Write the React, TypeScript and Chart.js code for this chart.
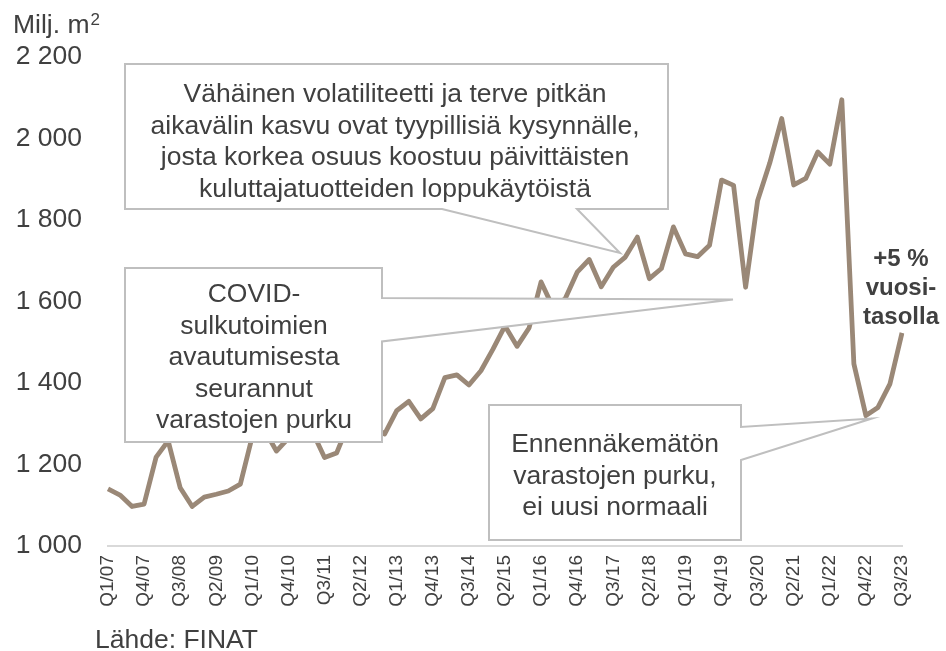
import React, { useEffect, useRef } from 'react';
import { Chart, registerables } from 'chart.js';

Chart.register(...registerables);

// ---- Data ----
const quarters = [
  'Q1/07', 'Q2/07', 'Q3/07', 'Q4/07',
  'Q1/08', 'Q2/08', 'Q3/08', 'Q4/08',
  'Q1/09', 'Q2/09', 'Q3/09', 'Q4/09',
  'Q1/10', 'Q2/10', 'Q3/10', 'Q4/10',
  'Q1/11', 'Q2/11', 'Q3/11', 'Q4/11',
  'Q1/12', 'Q2/12', 'Q3/12', 'Q4/12',
  'Q1/13', 'Q2/13', 'Q3/13', 'Q4/13',
  'Q1/14', 'Q2/14', 'Q3/14', 'Q4/14',
  'Q1/15', 'Q2/15', 'Q3/15', 'Q4/15',
  'Q1/16', 'Q2/16', 'Q3/16', 'Q4/16',
  'Q1/17', 'Q2/17', 'Q3/17', 'Q4/17',
  'Q1/18', 'Q2/18', 'Q3/18', 'Q4/18',
  'Q1/19', 'Q2/19', 'Q3/19', 'Q4/19',
  'Q1/20', 'Q2/20', 'Q3/20', 'Q4/20',
  'Q1/21', 'Q2/21', 'Q3/21', 'Q4/21',
  'Q1/22', 'Q2/22', 'Q3/22', 'Q4/22',
  'Q1/23', 'Q2/23', 'Q3/23',
];

const volume = [
  1140, 1125, 1097, 1103,
  1218, 1258, 1143, 1097,
  1120, 1127, 1135, 1152,
  1270, 1285, 1233, 1265,
  1300, 1280, 1217, 1228,
  1300, 1310, 1295, 1275,
  1332, 1355, 1312, 1337,
  1413, 1420, 1395, 1430,
  1483, 1540, 1490, 1535,
  1648, 1585, 1607, 1672,
  1703, 1636, 1684, 1709,
  1758, 1656, 1681, 1783,
  1717, 1710, 1738, 1898,
  1885, 1635, 1848, 1939,
  2049, 1886, 1902, 1967,
  1937, 2095, 1447, 1320,
  1340, 1398, 1523,
];

const yMin = 1000;
const yMax = 2200;
const yStep = 200;
const labelEvery = 3;

const unitText = 'Milj. m';
const unitSup = '2';
const sourceText = 'Lähde: FINAT';
const calloutTopLines = [
  'Vähäinen volatiliteetti ja terve pitkän',
  'aikavälin kasvu ovat tyypillisiä kysynnälle,',
  'josta korkea osuus koostuu päivittäisten',
  'kuluttajatuotteiden loppukäytöistä',
];
const calloutCovidLines = ['COVID-', 'sulkutoimien', 'avautumisesta', 'seurannut', 'varastojen purku'];
const calloutBottomLines = ['Ennennäkemätön', 'varastojen purku,', 'ei uusi normaali'];
const growthLines = ['+5 %', 'vuosi-', 'tasolla'];

// ---- Styles ----
const FONT = '"Liberation Sans", Arial, sans-serif';
const TEXT = '#404040';
const LINE = '#9a8877';
const BOX = '#bfbfbf';
const BODY_SIZE = 26.5;

const fmt = (v: number) => String(v).replace(/\B(?=(\d{3})+(?!\d))/g, ' ');

function callout(ctx: CanvasRenderingContext2D, pts: number[][], lines: string[], cx: number, base: number, lh: number) {
  ctx.save();
  ctx.beginPath();
  ctx.moveTo(pts[0][0], pts[0][1]);
  for (let i = 1; i < pts.length; i++) ctx.lineTo(pts[i][0], pts[i][1]);
  ctx.closePath();
  ctx.fillStyle = '#ffffff';
  ctx.fill();
  ctx.lineWidth = 2;
  ctx.strokeStyle = BOX;
  ctx.lineJoin = 'miter';
  ctx.stroke();
  ctx.fillStyle = TEXT;
  ctx.font = `${BODY_SIZE}px ${FONT}`;
  ctx.textAlign = 'center';
  ctx.textBaseline = 'alphabetic';
  lines.forEach((t, i) => ctx.fillText(t, cx, base + i * lh));
  ctx.restore();
}

const overlay = {
  id: 'overlay',
  afterDatasetsDraw(chart: any) {
    const ctx: CanvasRenderingContext2D = chart.ctx;
    callout(
      ctx,
      [[125, 64], [668, 64], [668, 209], [577, 209], [620, 253], [442, 209], [125, 209]],
      calloutTopLines, 395, 102, 31.7
    );
    callout(
      ctx,
      [[125, 268], [382, 268], [382, 298], [733, 299.5], [382, 341.5], [382, 442], [125, 442]],
      calloutCovidLines, 254, 302, 31.6
    );
    callout(
      ctx,
      [[489, 405], [741, 405], [741, 427], [872, 418.5], [741, 460], [741, 540], [489, 540]],
      calloutBottomLines, 615, 452, 31.6
    );

    ctx.save();
    ctx.fillStyle = TEXT;
    ctx.textAlign = 'center';
    ctx.textBaseline = 'alphabetic';
    ctx.font = `bold 24px ${FONT}`;
    growthLines.forEach((t, i) => ctx.fillText(t, 901, 266 + i * 29));

    ctx.textAlign = 'left';
    ctx.font = `${BODY_SIZE}px ${FONT}`;
    ctx.fillText(unitText, 13, 33);
    const w = ctx.measureText(unitText).width;
    ctx.font = `17px ${FONT}`;
    ctx.fillText(unitSup, 13 + w + 1, 25);
    ctx.font = `${BODY_SIZE}px ${FONT}`;
    ctx.fillText(sourceText, 95, 648);
    ctx.restore();
  },
};

export default function App() {
  const ref = useRef<HTMLCanvasElement>(null);
  useEffect(() => {
    document.body.style.margin = '0';
    const chart = new Chart(ref.current as HTMLCanvasElement, {
      type: 'line',
      data: {
        labels: quarters,
        datasets: [
          {
            data: volume,
            borderColor: LINE,
            backgroundColor: LINE,
            borderWidth: 4.8,
            pointRadius: 0,
            tension: 0,
            fill: false,
            borderJoinStyle: 'round',
          },
        ],
      },
      options: {
        responsive: false,
        animation: false,
        devicePixelRatio: 1,
        layout: { padding: { left: 0, right: 44, top: 57, bottom: 35 } },
        plugins: { legend: { display: false }, tooltip: { enabled: false } },
        scales: {
          x: {
            type: 'category',
            offset: false,
            grid: { display: false, drawTicks: false },
            border: { display: true, color: '#d9d9d9', width: 2 },
            ticks: {
              autoSkip: false,
              minRotation: 90,
              maxRotation: 90,
              padding: 9,
              color: TEXT,
              font: { family: FONT, size: 19 },
              callback: (_v: any, i: number) => (i % labelEvery === 0 ? quarters[i] : ''),
            },
            afterFit: (s: any) => {
              s.height = 70;
            },
          },
          y: {
            min: yMin,
            max: yMax,
            grid: { display: false, drawTicks: false },
            border: { display: false },
            ticks: {
              stepSize: yStep,
              padding: 26,
              color: TEXT,
              font: { family: FONT, size: BODY_SIZE },
              callback: (v: any) => fmt(Number(v)),
            },
            afterFit: (s: any) => {
              s.width = 108;
            },
          },
        },
      },
      plugins: [overlay],
    } as any);
    return () => chart.destroy();
  }, []);
  return <canvas ref={ref} width={946} height={651} style={{ display: 'block', width: 946, height: 651 }} />;
}
